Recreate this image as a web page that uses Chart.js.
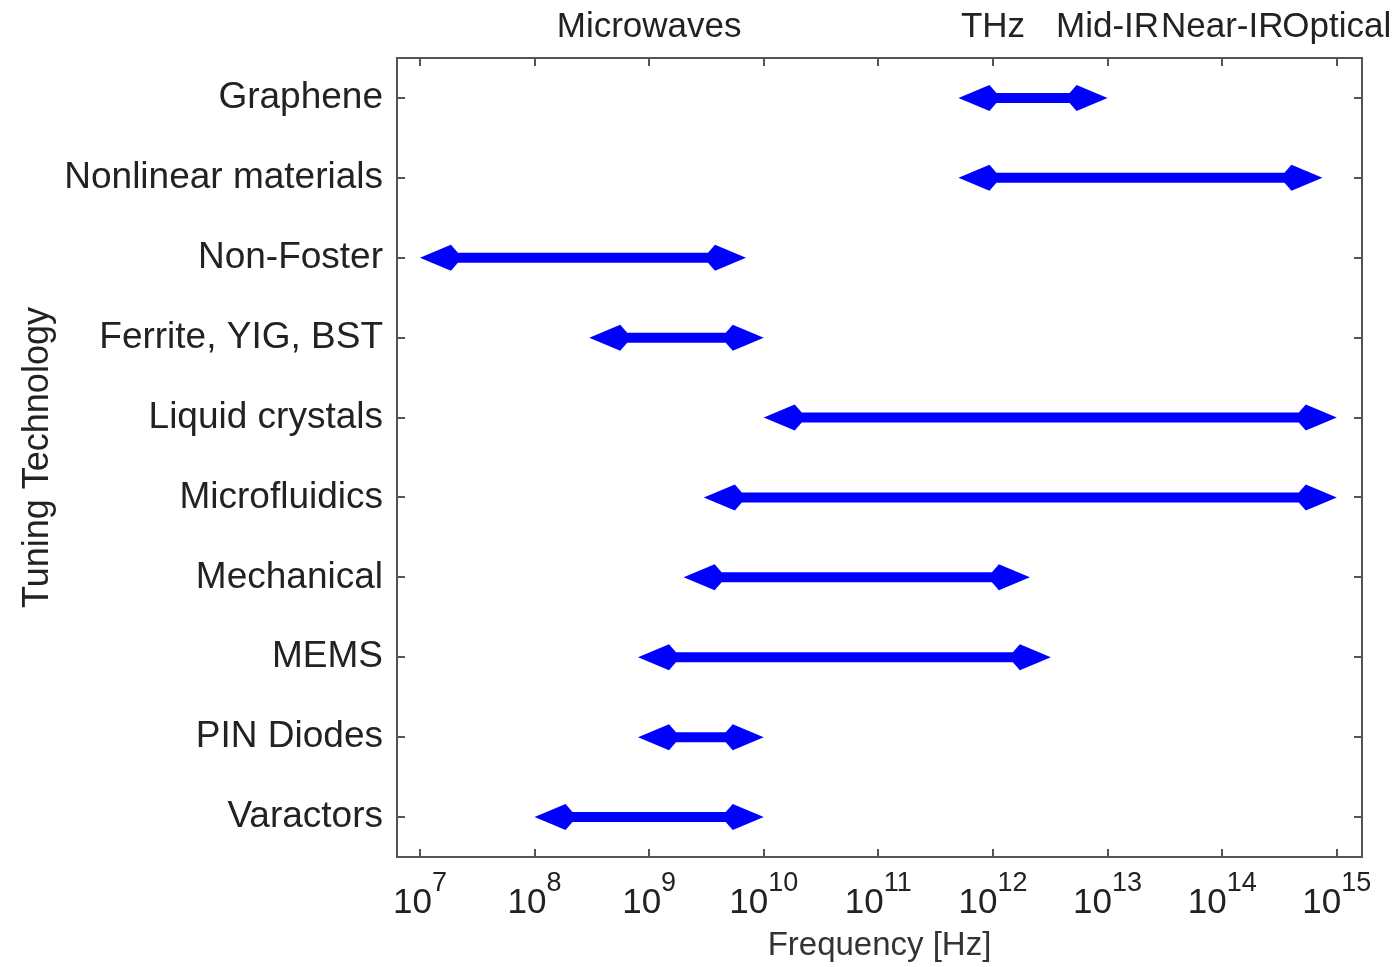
<!DOCTYPE html>
<html>
<head>
<meta charset="utf-8">
<script src="https://cdn.jsdelivr.net/npm/chart.js@4.4.1/dist/chart.umd.min.js"></script>
<style>
html, body { margin: 0; padding: 0; background: #fff; }
canvas { display: block; }
</style>
</head>
<body>
<canvas id="tuningChart" width="1399" height="967"></canvas>
<script>

// tuning technologies, top to bottom
const technologies = [
    "Graphene",
    "Nonlinear materials",
    "Non-Foster",
    "Ferrite, YIG, BST",
    "Liquid crystals",
    "Microfluidics",
    "Mechanical",
    "MEMS",
    "PIN Diodes",
    "Varactors"
];

// frequency range of each technology [Hz]
const lowFreq  = [5e11, 5e11, 1e7, 3e8, 1e10, 3e9, 2e9, 8e8, 8e8, 1e8];
const highFreq = [1e13, 7.5e14, 7e9, 1e10, 1e15, 1e15, 2.1e12, 3.2e12, 1e10, 1e10];

// decade ticks on the frequency axis (exponents)
const decadeExps = [7, 8, 9, 10, 11, 12, 13, 14, 15];

// spectrum bands written above the plot
const bandNames = ["Microwaves", "THz", "Mid-IR", "Near-IR", "Optical"];
const bandFreqs = [1e9, 1e12, 1e13, 1e14, 1e15];

const FONT = "'Liberation Sans', Arial, Helvetica, sans-serif";
const TEXT = "#222";
const AXIS = "#555";

const ranges = technologies.map((t, i) => [lowFreq[i], highFreq[i]]);

const matlabFrame = {

    id: "matlabFrame",

    afterDatasetsDraw(chart){

        const { ctx, chartArea: a, scales: { x, y } } = chart;

        ctx.save();

        // double headed arrows
        ctx.fillStyle = "#0000ff";

        chart.getDatasetMeta(0).data.forEach(bar => {

            const x0 = Math.min(bar.x, bar.base);
            const x1 = Math.max(bar.x, bar.base);
            const yc = bar.y;
            const hl = 31, hb = 38, hw = 13, sw = 5;

            ctx.beginPath();
            ctx.moveTo(x0, yc);
            ctx.lineTo(x0 + hl, yc - hw);
            ctx.lineTo(x0 + hb, yc - sw);
            ctx.lineTo(x1 - hb, yc - sw);
            ctx.lineTo(x1 - hl, yc - hw);
            ctx.lineTo(x1, yc);
            ctx.lineTo(x1 - hl, yc + hw);
            ctx.lineTo(x1 - hb, yc + sw);
            ctx.lineTo(x0 + hb, yc + sw);
            ctx.lineTo(x0 + hl, yc + hw);
            ctx.closePath();
            ctx.fill();

        });

        // box
        ctx.strokeStyle = AXIS;
        ctx.lineWidth = 2;
        ctx.strokeRect(a.left, a.top, a.right - a.left, a.bottom - a.top);

        // inward ticks
        const tl = 8;
        ctx.beginPath();

        decadeExps.forEach(e => {
            const px = Math.round(x.getPixelForValue(Math.pow(10, e)));
            ctx.moveTo(px, a.bottom);
            ctx.lineTo(px, a.bottom - tl);
            ctx.moveTo(px, a.top);
            ctx.lineTo(px, a.top + tl);
        });

        technologies.forEach((t, i) => {
            const py = Math.round(y.getPixelForValue(i));
            ctx.moveTo(a.left, py);
            ctx.lineTo(a.left + tl, py);
            ctx.moveTo(a.right, py);
            ctx.lineTo(a.right - tl, py);
        });

        ctx.stroke();

        // 10^n tick labels
        ctx.fillStyle = TEXT;
        ctx.textBaseline = "alphabetic";
        ctx.textAlign = "left";

        decadeExps.forEach(e => {

            const px = x.getPixelForValue(Math.pow(10, e));

            ctx.font = "35px " + FONT;
            const w1 = ctx.measureText("10").width;

            ctx.font = "27px " + FONT;
            const w2 = ctx.measureText(String(e)).width;

            const start = px - (w1 + w2) / 2;

            ctx.font = "35px " + FONT;
            ctx.fillText("10", start, 913);

            ctx.font = "27px " + FONT;
            ctx.fillText(String(e), start + w1, 891);

        });

        // band names on top
        ctx.font = "35px " + FONT;
        ctx.textAlign = "center";

        bandNames.forEach((name, i) => {
            ctx.fillText(name, x.getPixelForValue(bandFreqs[i]), 37);
        });

        ctx.restore();

    }

};

new Chart(document.getElementById("tuningChart"), {

    type: "bar",

    data: {

        labels: technologies,

        datasets: [{

            label: "Frequency range",

            data: ranges,

            backgroundColor: "rgba(0,0,0,0)",

            borderWidth: 0,

            barThickness: 10

        }]

    },

    options: {

        indexAxis: "y",

        responsive: false,

        animation: false,

        layout: {
            padding: { top: 58, right: 37, left: 0, bottom: 0 }
        },

        plugins: {
            legend: { display: false },
            tooltip: { enabled: false }
        },

        scales: {

            x: {
                type: "logarithmic",
                min: Math.pow(10, 6.8),
                max: Math.pow(10, 15.22),
                grid: { display: false, drawTicks: false },
                border: { display: false },
                ticks: { display: false },
                title: {
                    display: true,
                    text: "Frequency [Hz]",
                    font: { family: FONT, size: 33 },
                    color: "#333",
                    padding: { top: 0, bottom: 1 }
                },
                afterFit(scale){ scale.height = 110; }
            },

            y: {
                type: "category",
                grid: { display: false, drawTicks: false },
                border: { display: false },
                ticks: {
                    font: { family: FONT, size: 37 },
                    color: TEXT,
                    padding: 14,
                    autoSkip: false
                },
                title: {
                    display: true,
                    text: "Tuning Technology",
                    font: { family: FONT, size: 36 },
                    color: TEXT,
                    padding: { top: 16, bottom: 0 }
                },
                afterFit(scale){ scale.width = 397; }
            }

        }

    },

    plugins: [matlabFrame]

});

</script>
</body>
</html>
